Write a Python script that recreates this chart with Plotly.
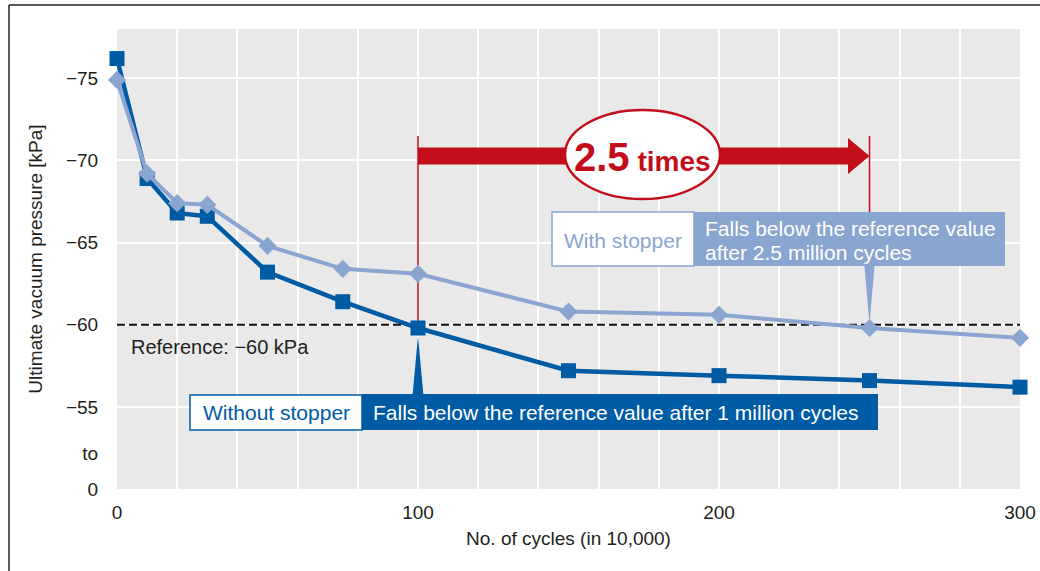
import plotly.graph_objects as go

# ---------------- data ----------------
cycles = [0, 10, 20, 30, 50, 75, 100, 150, 200, 250, 300]
without_stopper = [-76.2, -68.9, -66.8, -66.6, -63.2, -61.4, -59.8, -57.2, -56.9, -56.6, -56.2]
with_stopper = [-74.9, -69.2, -67.4, -67.3, -64.8, -63.4, -63.1, -60.8, -60.6, -59.8, -59.2]
reference_value = -60
y_tickvals = [-75, -70, -65, -60, -55, -52.2, -50]
y_ticktext = ["−75", "−70", "−65", "−60", "−55", "to", "0"]
y_grid_vals = [-75, -70, -65, -60, -55]
x_tickvals = [0, 100, 200, 300]
x_ticktext = ["0", "100", "200", "300"]

# ---------------- styling ----------------
DARK = "#005ba5"
LIGHT = "#8ba5d1"
RED = "#c40d1a"
BG = "#e8e9e8"
TXT = "#231f20"
FONT = "Liberation Sans, Arial, sans-serif"

W, H = 1040, 571
L, R, T, B = 117, 20, 29, 82
PW, PH = W - L - R, H - T - B
XR = (0, 300)
YR = (-50, -78)


def X(px):
    return XR[0] + (px - L) / PW * (XR[1] - XR[0])


def Y(py):
    return YR[0] + (T + PH - py) / PH * (YR[1] - YR[0])


fig = go.Figure()
fig.add_trace(go.Scatter(x=cycles, y=without_stopper, mode="lines+markers",
                         line=dict(color=DARK, width=4.5),
                         marker=dict(symbol="square", size=15, color=DARK),
                         cliponaxis=False,
                         name="Without stopper", showlegend=False))
fig.add_trace(go.Scatter(x=cycles, y=with_stopper, mode="lines+markers",
                         line=dict(color=LIGHT, width=4),
                         marker=dict(symbol="diamond", size=14, color=LIGHT),
                         cliponaxis=False,
                         name="With stopper", showlegend=False))

shapes = []
# reference dashed line
shapes.append(dict(type="line", xref="x", yref="y", x0=XR[0], x1=XR[1],
                   y0=reference_value, y1=reference_value, layer="between",
                   line=dict(color="#111", width=2, dash="8px,4px")))
# red vertical lines
x_without = cycles[without_stopper.index(-59.8)]
x_with = cycles[with_stopper.index(-59.8)]
shapes.append(dict(type="line", x0=x_without, x1=x_without, y0=Y(136), y1=without_stopper[6],
                   layer="between", line=dict(color=RED, width=1.5)))
shapes.append(dict(type="line", x0=x_with, x1=x_with, y0=Y(136), y1=Y(213),
                   layer="between", line=dict(color=RED, width=1.5)))
# red arrow
ax0, ah, atip = x_without, X(848), x_with
path = (f"M{ax0},{Y(147.5)} L{ah},{Y(147.5)} L{ah},{Y(138)} L{atip},{Y(156)} "
        f"L{ah},{Y(174)} L{ah},{Y(164.5)} L{ax0},{Y(164.5)} Z")
shapes.append(dict(type="path", path=path, fillcolor=RED, line=dict(width=0), layer="above"))
# ellipse
shapes.append(dict(type="circle", x0=X(565), x1=X(720), y0=Y(110), y1=Y(199),
                   fillcolor="white", line=dict(color=RED, width=2.5), layer="above"))

# With stopper boxes
shapes.append(dict(type="rect", x0=X(552), x1=X(694), y0=Y(212), y1=Y(266),
                   fillcolor="white", line=dict(color=LIGHT, width=1.5), layer="above"))
shapes.append(dict(type="rect", x0=X(694), x1=X(1005), y0=Y(212), y1=Y(266),
                   fillcolor=LIGHT, line=dict(width=0), layer="above"))
shapes.append(dict(type="path",
                   path=f"M{x_with - 1.7},{Y(265)} L{x_with + 1.7},{Y(265)} L{x_with},{Y(324)} Z",
                   fillcolor=LIGHT, line=dict(width=0), layer="above"))
# Without stopper boxes
shapes.append(dict(type="rect", x0=X(190), x1=X(362), y0=Y(395), y1=Y(430),
                   fillcolor="white", line=dict(color=DARK, width=1.5), layer="above"))
shapes.append(dict(type="rect", x0=X(362), x1=X(878), y0=Y(394), y1=Y(430),
                   fillcolor=DARK, line=dict(width=0), layer="above"))
shapes.append(dict(type="path",
                   path=f"M{x_without - 1.8},{Y(395)} L{x_without + 1.8},{Y(395)} L{x_without},{Y(336)} Z",
                   fillcolor=DARK, line=dict(width=0), layer="above"))

# outer frame
px0 = (9 - L) / PW
py0 = (T + PH - 5) / PH
shapes.append(dict(type="line", xref="paper", yref="paper", x0=px0, x1=1.1, y0=py0, y1=py0,
                   line=dict(color="#222", width=1.5), layer="above"))
shapes.append(dict(type="line", xref="paper", yref="paper", x0=px0, x1=px0, y0=py0, y1=-0.3,
                   line=dict(color="#222", width=1.5), layer="above"))

annotations = [
    dict(x=X(642), y=Y(157), xref="x", yref="y", showarrow=False,
         text="<b><span style='font-size:40px'>2.5</span> <span style='font-size:28px'>times</span></b>",
         font=dict(family=FONT, color=RED, size=28)),
    dict(x=X(623), y=Y(240), showarrow=False, text="With stopper",
         font=dict(family=FONT, color=LIGHT, size=21)),
    dict(x=X(703), y=Y(228), showarrow=False, xanchor="left", text="Falls below the reference value",
         font=dict(family=FONT, color="white", size=21)),
    dict(x=X(703), y=Y(252), showarrow=False, xanchor="left", text="after 2.5 million cycles",
         font=dict(family=FONT, color="white", size=21)),
    dict(x=X(276), y=Y(412), showarrow=False, text="Without stopper",
         font=dict(family=FONT, color=DARK, size=21)),
    dict(x=X(371), y=Y(412), showarrow=False, xanchor="left",
         text="Falls below the reference value after 1 million cycles",
         font=dict(family=FONT, color="white", size=21)),
    dict(x=X(129), y=Y(347), showarrow=False, xanchor="left", text="Reference: −60 kPa",
         font=dict(family=FONT, color=TXT, size=20)),
]

fig.update_layout(
    width=W, height=H,
    margin=dict(l=L, r=R, t=T, b=B, autoexpand=False),
    paper_bgcolor="white", plot_bgcolor=BG,
    font=dict(family=FONT, color=TXT, size=19),
    shapes=shapes, annotations=annotations,
    xaxis=dict(range=list(XR), tickmode="array", tickvals=x_tickvals, ticktext=x_ticktext,
               showgrid=True, gridcolor="white", gridwidth=1.5, zeroline=False, showline=False,
               ticks="outside", ticklen=6, tickcolor="rgba(0,0,0,0)",
               tickfont=dict(size=19), automargin=False,
               minor=dict(tick0=0, dtick=20, showgrid=True, gridcolor="white", gridwidth=1.5),
               title=dict(text="No. of cycles (in 10,000)", font=dict(size=19), standoff=9)),
    yaxis=dict(range=list(YR), tickmode="array", tickvals=y_tickvals, ticktext=y_ticktext,
               showgrid=False, zeroline=False, showline=False,
               ticks="outside", ticklen=14, tickcolor="rgba(0,0,0,0)",
               tickfont=dict(size=19), automargin=False,
               minor=dict(tickmode="array", tickvals=y_grid_vals, showgrid=True,
                          gridcolor="white", gridwidth=1.5),
               title=dict(text="Ultimate vacuum pressure [kPa]", font=dict(size=19), standoff=18)),
)

fig.write_html("out.html", config={"displayModeBar": False},
               post_script="document.body.style.margin='0px';document.body.style.overflow='hidden';")
